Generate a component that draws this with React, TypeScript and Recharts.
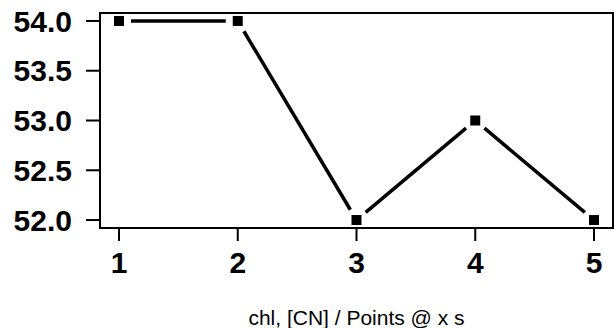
import React from 'react';
import { LineChart, Line, XAxis, YAxis, ReferenceArea, Label } from 'recharts';

// values
const xValues = [1, 2, 3, 4, 5];
const yValues = [54.0, 54.0, 52.0, 53.0, 52.0];
const yTicks = [52.0, 52.5, 53.0, 53.5, 54.0];
const xLabel = 'chl, [CN] / Points @ x s';

const chartData = xValues.map((x, i) => ({ x, y: yValues[i] }));

const FONT = '"Liberation Sans", Arial, Helvetica, sans-serif';
const GAP = 12; // line stops short of each marker (R type="b")

// pixel positions seen so far in this render (dots are drawn in order)
const seen: { x: number; y: number }[] = [];

// square marker + segment back to the previous point, shortened at both ends
const renderDot = (props: any) => {
    const { cx, cy, index } = props;
    if (typeof cx !== 'number' || typeof cy !== 'number') return <g key={`d-${index}`} />;
    seen[index] = { x: cx, y: cy };
    let seg = null;
    const prev = index > 0 ? seen[index - 1] : undefined;
    if (prev) {
        const dx = cx - prev.x;
        const dy = cy - prev.y;
        const len = Math.sqrt(dx * dx + dy * dy);
        if (len > GAP * 2) {
            const ux = dx / len;
            const uy = dy / len;
            seg = (
                <line
                    x1={prev.x + ux * GAP} y1={prev.y + uy * GAP}
                    x2={cx - ux * GAP} y2={cy - uy * GAP}
                    stroke="#000" strokeWidth={3.5}
                />
            );
        }
    }
    return (
        <g key={`d-${index}`}>
            {seg}
            <rect x={cx - 5} y={cy - 5} width={10} height={10} fill="#000" stroke="none" />
        </g>
    );
};

export default function App() {
    return (
        <div style={{ position: 'absolute', left: 0, top: 0, background: '#fff' }}>
            <LineChart
                width={614}
                height={328}
                data={chartData}
                margin={{ top: 13, right: 1, left: 0, bottom: 0 }}
            >
                <XAxis
                    dataKey="x"
                    type="number"
                    domain={[0.84, 5.16]}
                    ticks={xValues}
                    height={100}
                    tickSize={13}
                    tickMargin={11}
                    stroke="#000"
                    strokeWidth={2}
                    tick={{ fontSize: 30, fontWeight: 'bold', fill: '#000', fontFamily: FONT }}
                >
                    <Label
                        value={xLabel}
                        position="insideBottom"
                        offset={3}
                        style={{ fontSize: 21, fill: '#000', fontFamily: FONT }}
                    />
                </XAxis>
                <YAxis
                    type="number"
                    domain={[51.92, 54.08]}
                    ticks={yTicks}
                    width={100}
                    tickSize={14}
                    tickMargin={14}
                    stroke="#000"
                    strokeWidth={2}
                    tickFormatter={(v: number) => v.toFixed(1)}
                    tick={{ fontSize: 30, fontWeight: 'bold', fill: '#000', fontFamily: FONT }}
                />
                <ReferenceArea
                    x1={0.84} x2={5.16} y1={51.92} y2={54.08}
                    fill="none" fillOpacity={0} stroke="#000" strokeWidth={2}
                    ifOverflow="visible"
                />
                <Line
                    dataKey="y"
                    type="linear"
                    stroke="#000"
                    strokeOpacity={0}
                    strokeWidth={0}
                    dot={renderDot}
                    activeDot={false}
                    isAnimationActive={false}
                />
            </LineChart>
        </div>
    );
}
